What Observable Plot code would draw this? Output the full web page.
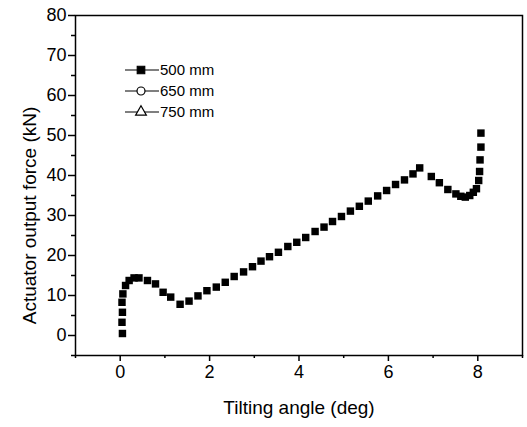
<!DOCTYPE html>
<html>
<head>
<meta charset="utf-8">
<script src="https://cdn.jsdelivr.net/npm/d3@7"></script>
<script src="https://cdn.jsdelivr.net/npm/@observablehq/plot@0.6"></script>
<style>
  html, body { margin: 0; padding: 0; background: #fff; }
  #chart { position: relative; width: 527px; height: 427px; }
</style>
</head>
<body>
<div id="chart"></div>
<script>
const angle500 = [0.05,0.04,0.05,0.04,0.06,0.12,0.2,0.31,0.42,0.61,0.79,0.96,1.13,1.34,1.54,1.74,1.94,2.15,2.35,2.55,2.76,2.96,3.15,3.34,3.54,3.75,3.95,4.15,4.36,4.56,4.75,4.95,5.15,5.35,5.55,5.76,5.96,6.16,6.36,6.55,6.70,6.96,7.14,7.33,7.51,7.62,7.72,7.82,7.90,7.97,8.02,8.04,8.05,8.07,8.07];
const force500 = [0.5,3.3,5.8,8.3,10.4,12.5,13.75,14.4,14.4,13.75,12.9,10.8,9.6,7.8,8.6,9.9,11.2,12.1,13.3,14.75,15.9,17.2,18.6,19.7,20.8,22.25,23.3,24.5,26,27.1,28.5,29.75,31.1,32.3,33.6,34.9,36.25,37.75,38.9,40.4,41.9,39.75,38.2,36.5,35.4,34.8,34.6,35.0,35.8,36.7,38.75,41,43.9,47.1,50.6];
const seriesLabels = ["500 mm", "650 mm", "750 mm"];
const seriesSymbols = ["square", "circle", "triangle"];
const xMajor = [0, 2, 4, 6, 8];
const xMinor = [-1, 1, 3, 5, 7, 9];
const yMajor = [0, 10, 20, 30, 40, 50, 60, 70, 80];
const yMinor = [-5, 5, 15, 25, 35, 45, 55, 65, 75];

const data = angle500.map((a, i) => ({angle: a, force: force500[i]}));

const plot = Plot.plot({
  width: 527,
  height: 427,
  marginLeft: 75,
  marginRight: 5,
  marginTop: 15,
  marginBottom: 72,
  style: {fontFamily: "'Liberation Sans', Arial, sans-serif", fontSize: "18px", color: "#000", background: "#fff"},
  x: {domain: [-1, 9]},
  y: {domain: [-5, 80]},
  marks: [
    Plot.axisX({ticks: xMajor, tickSize: 6, tickPadding: 4, label: null, fontSize: 18, strokeWidth: 1.5}),
    Plot.axisX({ticks: xMinor, tickSize: 3, text: null, label: null, strokeWidth: 1.5}),
    Plot.axisY({ticks: yMajor, tickSize: 7, tickPadding: 2, label: null, fontSize: 18, strokeWidth: 1.5}),
    Plot.axisY({ticks: yMinor, tickSize: 4, text: null, label: null, strokeWidth: 1.5}),
    Plot.frame({stroke: "#000", strokeWidth: 1.5}),
    Plot.dot(data, {x: "angle", y: "force", symbol: "square", r: 4.2, fill: "#000", stroke: "none"}),
    Plot.text(["Tilting angle (deg)"], {frameAnchor: "bottom", dy: 58, fontSize: 19, fill: "#000", textAnchor: "middle", letterSpacing: "1px"}),
    Plot.text(["Actuator output force (kN)"], {frameAnchor: "left", dx: -46, dy: 30, rotate: -90, fontSize: 19, fill: "#000", textAnchor: "middle", letterSpacing: "1px"})
  ]
});

// Legend
const svg = d3.select(plot);
const lg = svg.append("g").attr("transform", "translate(125,70)");
seriesLabels.forEach((lab, i) => {
  const g = lg.append("g").attr("transform", `translate(0,${i * 21})`);
  g.append("line").attr("x1", 0).attr("x2", 34).attr("y1", 0).attr("y2", 0).attr("stroke", "#000").attr("stroke-width", 1.2);
  const sym = d3.symbol().type(seriesSymbols[i] === "square" ? d3.symbolSquare : seriesSymbols[i] === "circle" ? d3.symbolCircle : d3.symbolTriangle).size(i === 0 ? 56 : 50);
  g.append("path").attr("d", sym()).attr("transform", "translate(16,0)")
    .attr("fill", i === 0 ? "#000" : "#fff").attr("stroke", "#000").attr("stroke-width", 1.2);
  g.append("text").attr("x", 35).attr("y", 5).attr("text-anchor", "start").attr("font-size", 15).attr("fill", "#000").text(lab);
});

document.getElementById("chart").appendChild(plot);
</script>
</body>
</html>
